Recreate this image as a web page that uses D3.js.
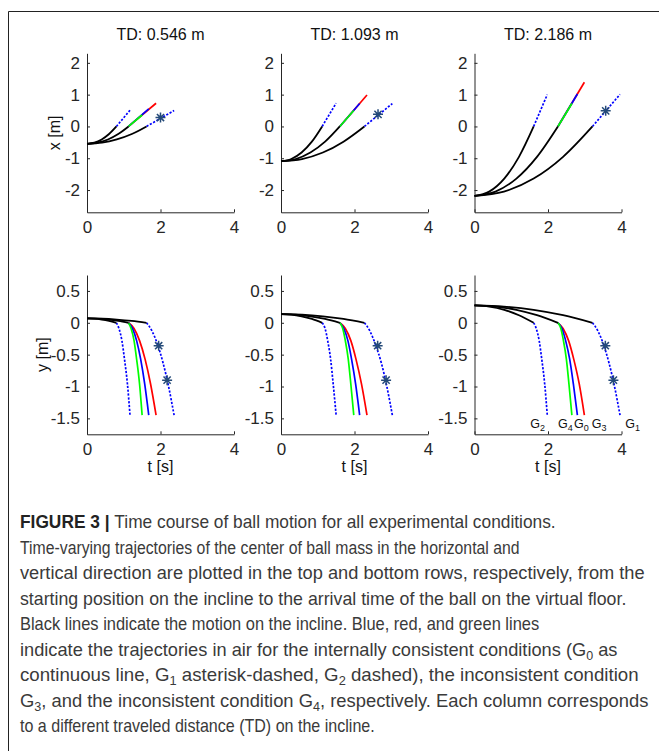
<!DOCTYPE html>
<html><head><meta charset="utf-8">
<script src="https://cdn.jsdelivr.net/npm/d3@7"></script>
<style>body{margin:0;background:#fff} svg{display:block}</style>
</head><body><svg id="c" width="659" height="751"></svg>
<script>
// ---------------- data ----------------
const panelTitles = ["TD: 0.546 m", "TD: 1.093 m", "TD: 2.186 m"];
const xTickValues = [0, 2, 4];
const xTickLabels = ["0", "2", "4"];
const topTickValues = [-2, -1, 0, 1, 2];
const topTickLabels = ["-2", "-1", "0", "1", "2"];
const botTickValues = [-1.5, -1, -0.5, 0, 0.5];
const botTickLabels = ["-1.5", "-1", "-0.5", "0", "0.5"];

// incline phase (black): read times for the [G2, G0/G3/G4, G1] curves in each column
const inclineT = [
  [[0, 0.20, 0.40, 0.60, 0.80], [0, 0.28, 0.57, 0.85, 1.13], [0, 0.41, 0.81, 1.22, 1.62]],
  [[0, 0.28, 0.56, 0.84, 1.12], [0, 0.40, 0.80, 1.20, 1.60], [0, 0.57, 1.14, 1.70, 2.27]],
  [[0, 0.40, 0.81, 1.21, 1.61], [0, 0.57, 1.14, 1.70, 2.27], [0, 0.80, 1.61, 2.41, 3.21]]
];
const inclineX = [
  [-0.546, -0.512, -0.410, -0.239, 0],
  [-1.093, -1.025, -0.820, -0.478, 0],
  [-2.186, -2.049, -1.640, -0.956, 0]
];
const inclineY = [
  [0.068, 0.064, 0.051, 0.030, 0],
  [0.136, 0.128, 0.102, 0.060, 0],
  [0.272, 0.255, 0.204, 0.119, 0]
];

// air phase, horizontal (straight lines): start time, end time, end x per column
const airStart = {G2: [0.80, 1.12, 1.61], G4: [1.13, 1.60, 2.27], G0: [1.13, 1.60, 2.27], G3: [1.13, 1.60, 2.27], G1: [1.62, 2.27, 3.21]};
const airEnd   = {G2: [1.17, 1.50, 1.98], G4: [1.50, 1.98, 2.65], G0: [1.68, 2.14, 2.80], G3: [1.88, 2.34, 2.99], G1: [2.37, 3.03, 3.96]};
const airXEnd  = {G2: [0.51, 0.73, 1.00], G4: [0.36, 0.50, 0.72], G0: [0.55, 0.72, 1.02], G3: [0.73, 0.99, 1.39], G1: [0.50, 0.72, 1.01]};

// air phase, vertical: read times per column and the heights at those times
const airYT = {
  G2: [[0.80, 0.87, 0.95, 1.02, 1.10, 1.17], [1.12, 1.20, 1.27, 1.35, 1.42, 1.50], [1.61, 1.68, 1.76, 1.83, 1.91, 1.98]],
  G4: [[1.13, 1.20, 1.28, 1.35, 1.43, 1.50], [1.60, 1.68, 1.75, 1.83, 1.90, 1.98], [2.27, 2.35, 2.42, 2.50, 2.57, 2.65]],
  G0: [[1.13, 1.24, 1.35, 1.46, 1.57, 1.68], [1.60, 1.71, 1.82, 1.92, 2.03, 2.14], [2.27, 2.38, 2.48, 2.59, 2.69, 2.80]],
  G3: [[1.13, 1.28, 1.43, 1.58, 1.73, 1.88], [1.60, 1.75, 1.90, 2.04, 2.19, 2.34], [2.27, 2.41, 2.56, 2.70, 2.85, 2.99]],
  G1: [[1.62, 1.77, 1.92, 2.07, 2.22, 2.37], [2.27, 2.42, 2.57, 2.73, 2.88, 3.03], [3.21, 3.36, 3.51, 3.66, 3.81, 3.96]]
};
const airYV   = [0, -0.09, -0.28, -0.57, -0.96, -1.45];
const airYVG1 = [0, -0.13, -0.34, -0.63, -1.00, -1.45];

const starTop = [[2.00, 0.28], [2.64, 0.38], [3.57, 0.49]];
const starBottom = [[[1.95, -0.36], [2.18, -0.90]], [[2.63, -0.36], [2.86, -0.90]], [[3.56, -0.36], [3.78, -0.90]]];

const condOrder = ["G3", "G0", "G4", "G2", "G1"];
const gLabels = [["2", 1.52], ["4", 2.27], ["0", 2.71], ["3", 3.19], ["1", 4.10]];
const gLabelY = -1.65;

const captionLines = [
  [["FIGURE 3 | ", "b"], ["Time course of ball motion for all experimental conditions.", ""]],
  [["Time-varying trajectories of the center of ball mass in the horizontal and", ""]],
  [["vertical direction are plotted in the top and bottom rows, respectively, from the", ""]],
  [["starting position on the incline to the arrival time of the ball on the virtual floor.", ""]],
  [["Black lines indicate the motion on the incline. Blue, red, and green lines", ""]],
  [["indicate the trajectories in air for the internally consistent conditions (G", ""], ["0", "s"], [" as", ""]],
  [["continuous line, G", ""], ["1", "s"], [" asterisk-dashed, G", ""], ["2", "s"], [" dashed), the inconsistent condition", ""]],
  [["G", ""], ["3", "s"], [", and the inconsistent condition G", ""], ["4", "s"], [", respectively. Each column corresponds", ""]],
  [["to a different traveled distance (TD) on the incline.", ""]]
];
// right end of each caption line in the reference
const captionEnds = [556, 520, 645, 627, 540, 618, 639, 649, 375];

// ---------------- drawing ----------------
const svg = d3.select("#c");
const FONT = "Liberation Sans, Arial, Helvetica, sans-serif";
const AX = "#262626";
const colColors = {G0: "#0000ff", G1: "#0000ff", G2: "#0000ff", G3: "#ff0000", G4: "#00ff00"};
const dashed = {G1: true, G2: true};

// frame
svg.append("path").attr("d", "M8.5,751 V11.5 H659").attr("fill", "none").attr("stroke", "#222").attr("stroke-width", 1);

const colX0 = [87, 281, 474.5];
const panelW = 147;
const rows = [
  {top: 53.3, bottom: 212.3, domain: [-2.7, 2.3], ticks: topTickValues, labels: topTickLabels, label: "x [m]", labelX: 60},
  {top: 275, bottom: 434.3, domain: [-1.75, 0.75], ticks: botTickValues, labels: botTickLabels, label: "y [m]", labelX: 48}
];

function asterisk(g, cx, cy) {
  const r = 5;
  const d = `M${cx - r},${cy}H${cx + r}M${cx},${cy - r}V${cy + r}` +
    `M${cx - r * 0.72},${cy - r * 0.72}L${cx + r * 0.72},${cy + r * 0.72}` +
    `M${cx - r * 0.72},${cy + r * 0.72}L${cx + r * 0.72},${cy - r * 0.72}`;
  g.append("path").attr("d", d).attr("stroke", "#244a78").attr("stroke-width", 1.5).attr("fill", "none");
}

rows.forEach((row, ri) => {
  for (let c = 0; c < 3; c++) {
    const x = d3.scaleLinear().domain([0, 4]).range([colX0[c], colX0[c] + panelW]);
    const y = d3.scaleLinear().domain(row.domain).range([row.bottom, row.top]);
    const g = svg.append("g");

    // axes
    const xa = g.append("g").attr("transform", `translate(0,${row.bottom})`)
      .call(d3.axisBottom(x).tickValues(xTickValues).tickFormat((d, i) => xTickLabels[i])
        .tickSizeInner(-3).tickSizeOuter(0).tickPadding(9));
    const ya = g.append("g").attr("transform", `translate(${colX0[c]},0)`)
      .call(d3.axisLeft(y).tickValues(row.ticks).tickFormat((d, i) => row.labels[i])
        .tickSizeInner(-3).tickSizeOuter(0).tickPadding(7));
    [xa, ya].forEach(a => {
      a.attr("font-size", null).attr("font-family", null);
      a.select(".domain").attr("stroke", AX).attr("stroke-width", 1);
      a.selectAll(".tick line").attr("stroke", AX);
      a.selectAll(".tick text").attr("fill", AX).attr("font-family", FONT).attr("font-size", 17);
    });

    const line = d3.line().x(d => x(d[0])).y(d => y(d[1])).curve(d3.curveMonotoneX);

    // air phase
    condOrder.forEach(k => {
      let pts;
      if (ri === 0) {
        pts = [[airStart[k][c], 0], [airEnd[k][c], airXEnd[k][c]]];
      } else {
        const vals = k === "G1" ? airYVG1 : airYV;
        pts = airYT[k][c].map((t, i) => [t, vals[i]]);
      }
      g.append("path").attr("d", line(pts)).attr("fill", "none")
        .attr("stroke", colColors[k]).attr("stroke-width", 1.7)
        .attr("stroke-dasharray", dashed[k] ? "2.2,1.6" : null);
    });

    // incline phase (black)
    inclineT[c].forEach(ts => {
      const vals = ri === 0 ? inclineX[c] : inclineY[c];
      const pts = ts.map((t, i) => [t, vals[i]]);
      g.append("path").attr("d", line(pts)).attr("fill", "none").attr("stroke", "#000").attr("stroke-width", 1.8);
    });

    // asterisks
    if (ri === 0) asterisk(g, x(starTop[c][0]), y(starTop[c][1]));
    else starBottom[c].forEach(s => asterisk(g, x(s[0]), y(s[1])));

    // titles & labels
    if (ri === 0) {
      g.append("text").attr("x", x(2)).attr("y", 40).attr("text-anchor", "middle")
        .attr("font-family", FONT).attr("font-size", 16).attr("fill", "#111").text(panelTitles[c]);
    } else {
      g.append("text").attr("x", x(2)).attr("y", 472).attr("text-anchor", "middle")
        .attr("font-family", FONT).attr("font-size", 16).attr("fill", "#111").text("t [s]");
    }
    if (c === 0) {
      const cy = (row.top + row.bottom) / 2;
      g.append("text").attr("transform", `translate(${row.labelX},${cy}) rotate(-90)`).attr("text-anchor", "middle")
        .attr("font-family", FONT).attr("font-size", 16).attr("fill", "#111").text(row.label);
    }
    if (ri === 1 && c === 2) {
      gLabels.forEach(l => {
        const t = g.append("text").attr("x", x(l[1])).attr("y", y(gLabelY))
          .attr("font-family", FONT).attr("font-size", 12.5).attr("fill", "#111");
        t.append("tspan").text("G");
        t.append("tspan").attr("dy", 3).attr("font-size", 9).text(l[0]);
      });
    }
  }
});

// caption
const capLeft = 20, capTop = 528, capStep = 25.5;
captionLines.forEach((segs, i) => {
  const g = svg.append("g");
  const t = g.append("text").attr("x", 0).attr("y", 0)
    .attr("font-family", FONT).attr("font-size", 17.5).attr("fill", "#3a3a3a");
  let sub = false;
  segs.forEach(s => {
    const ts = t.append("tspan").text(s[0]);
    if (s[1] === "b") ts.attr("font-weight", "bold").attr("fill", "#222");
    if (s[1] === "s") { ts.attr("dy", 4).attr("font-size", 12); sub = true; }
    else if (sub) { ts.attr("dy", -4); sub = false; }
  });
  const w = t.node().getBBox().width;
  const k = (captionEnds[i] - capLeft) / w;
  g.attr("transform", `translate(${capLeft},${capTop + i * capStep}) scale(${k},1)`);
});
</script>
</body></html>
